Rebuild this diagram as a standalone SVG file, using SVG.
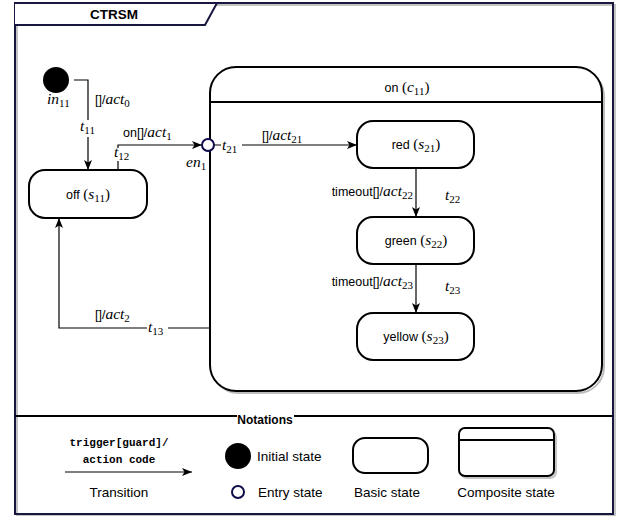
<svg xmlns="http://www.w3.org/2000/svg" width="621" height="519" viewBox="0 0 621 519">
<defs>
<marker id="arr" viewBox="0 0 10 8" markerWidth="10" markerHeight="8" refX="10" refY="4" orient="auto" markerUnits="userSpaceOnUse">
<path d="M0,0 L10,4 L0,8 L2.5,4 Z" fill="#000"/>
</marker>
</defs>
<style>
.lb{font-family:"Liberation Sans",Arial,sans-serif;font-size:12.5px;fill:#000}
.nt{font-family:"Liberation Sans",Arial,sans-serif;font-size:13.5px;fill:#000}
.bd{font-family:"Liberation Sans",Arial,sans-serif;font-weight:bold;fill:#000}
.mo{font-family:"Liberation Mono","Courier New",monospace;font-weight:bold;font-size:11px;fill:#000}
.mi{font-family:"Liberation Serif","Times New Roman",serif;font-style:italic;font-size:15.5px}
.mr{font-family:"Liberation Serif","Times New Roman",serif;font-size:15px}
.sb{font-family:"Liberation Serif","Times New Roman",serif;font-size:11px}
.st{fill:#fff;stroke:#000;stroke-width:2}
.edge{fill:none;stroke:#000;stroke-width:1.2}
.bg{fill:#fff}
</style>

<g id="frame">
<rect x="17" y="5" width="598" height="510" fill="none" stroke="#c4c4c4" stroke-width="2"/>
<rect x="15" y="3" width="598" height="511" fill="none" stroke="#17173f" stroke-width="2"/>
<path d="M15,3 L217,3 L205,25 L15,25" fill="#fff" stroke="#17173f" stroke-width="2"/>
<text class="bd" x="114" y="19" font-size="13.5" text-anchor="middle">CTRSM</text>
</g>

<g id="composite-on">
<rect x="212" y="70" width="392" height="323" rx="26" fill="none" stroke="#bdbdbd" stroke-width="2"/>
<rect x="210" y="67" width="392" height="324" rx="26" fill="#fff" stroke="#000" stroke-width="2"/>
<line x1="210" y1="102" x2="602" y2="102" stroke="#000" stroke-width="2"/>
<text class="lb" x="407" y="92" text-anchor="middle">on <tspan class="mr">(</tspan><tspan class="mi">c</tspan><tspan class="sb" dy="3">11</tspan><tspan class="mr" dy="-3">)</tspan></text>
</g>

<g id="initial">
<circle cx="56" cy="80" r="13" fill="#000"/>
<text x="47" y="104"><tspan class="mi">in</tspan><tspan class="sb" dy="3">11</tspan></text>
</g>

<g id="off">
<rect class="st" x="29" y="170" width="118" height="48" rx="16"/>
<text class="lb" x="88" y="199" text-anchor="middle">off <tspan class="mr">(</tspan><tspan class="mi">s</tspan><tspan class="sb" dy="3">11</tspan><tspan class="mr" dy="-3">)</tspan></text>
</g>

<g id="red">
<rect class="st" x="357" y="121" width="117" height="47" rx="16"/>
<text class="lb" x="416" y="149" text-anchor="middle">red <tspan class="mr">(</tspan><tspan class="mi">s</tspan><tspan class="sb" dy="3">21</tspan><tspan class="mr" dy="-3">)</tspan></text>
</g>

<g id="green">
<rect class="st" x="357" y="217" width="117" height="47" rx="16"/>
<text class="lb" x="416" y="245" text-anchor="middle">green <tspan class="mr">(</tspan><tspan class="mi">s</tspan><tspan class="sb" dy="3">22</tspan><tspan class="mr" dy="-3">)</tspan></text>
</g>

<g id="yellow">
<rect class="st" x="357" y="313" width="117" height="47" rx="16"/>
<text class="lb" x="416" y="341" text-anchor="middle">yellow <tspan class="mr">(</tspan><tspan class="mi">s</tspan><tspan class="sb" dy="3">23</tspan><tspan class="mr" dy="-3">)</tspan></text>
</g>

<g id="connectors">
<path class="edge" d="M74,80 H88 V170" marker-end="url(#arr)"/>
<path class="edge" d="M118,170 V145 H202" marker-end="url(#arr)"/>
<path class="edge" d="M214,145 H357" marker-end="url(#arr)"/>
<path class="edge" d="M416,168 V217" marker-end="url(#arr)"/>
<path class="edge" d="M416,264 V313" marker-end="url(#arr)"/>
<path class="edge" d="M210,328 H59 V218" marker-end="url(#arr)"/>

<rect class="bg" x="79" y="120" width="18" height="17"/>
<text x="80" y="131"><tspan class="mi">t</tspan><tspan class="sb" dy="3">11</tspan></text>
<text x="95" y="104"><tspan class="lb">[]/</tspan><tspan class="mi">act</tspan><tspan class="sb" dy="3">0</tspan></text>

<rect class="bg" x="113" y="148" width="19" height="13"/>
<text x="114" y="157"><tspan class="mi">t</tspan><tspan class="sb" dy="3">12</tspan></text>
<text x="123" y="137"><tspan class="lb">on[]/</tspan><tspan class="mi">act</tspan><tspan class="sb" dy="3">1</tspan></text>

<rect class="bg" x="221" y="139" width="21" height="13"/>
<text x="222" y="150"><tspan class="mi">t</tspan><tspan class="sb" dy="3">21</tspan></text>
<text x="262" y="140"><tspan class="lb">[]/</tspan><tspan class="mi">act</tspan><tspan class="sb" dy="3">21</tspan></text>

<text x="413" y="196" text-anchor="end"><tspan class="lb" font-size="13.5">timeout[]/</tspan><tspan class="mi">act</tspan><tspan class="sb" dy="3">22</tspan></text>
<text x="445" y="200"><tspan class="mi">t</tspan><tspan class="sb" dy="3">22</tspan></text>

<text x="413" y="286" text-anchor="end"><tspan class="lb" font-size="13.5">timeout[]/</tspan><tspan class="mi">act</tspan><tspan class="sb" dy="3">23</tspan></text>
<text x="445" y="291"><tspan class="mi">t</tspan><tspan class="sb" dy="3">23</tspan></text>

<rect class="bg" x="147" y="322" width="21" height="13"/>
<text x="148" y="332"><tspan class="mi">t</tspan><tspan class="sb" dy="3">13</tspan></text>
<text x="95" y="319"><tspan class="lb">[]/</tspan><tspan class="mi">act</tspan><tspan class="sb" dy="3">2</tspan></text>
</g>

<g id="entry-en1">
<circle cx="208" cy="145" r="6" fill="#fff" stroke="#0e0e4a" stroke-width="2"/>
<text x="186" y="167"><tspan class="mi">en</tspan><tspan class="sb" dy="3">1</tspan></text>
</g>

<g id="notations">
<line x1="15" y1="416" x2="613" y2="416" stroke="#000" stroke-width="2"/>
<rect class="bg" x="237" y="410" width="57" height="14"/>
<text class="bd" x="265" y="424" font-size="12" text-anchor="middle">Notations</text>

<text class="mo" x="119" y="446" text-anchor="middle">trigger[guard]/</text>
<text class="mo" x="119" y="463" text-anchor="middle">action code</text>
<path class="edge" d="M65,472 H192" marker-end="url(#arr)"/>
<text class="nt" x="119" y="497" text-anchor="middle">Transition</text>

<circle cx="238" cy="456" r="13" fill="#000"/>
<text class="nt" x="257" y="461">Initial state</text>
<circle cx="238" cy="492" r="6" fill="#fff" stroke="#0e0e4a" stroke-width="2"/>
<text class="nt" x="258" y="497">Entry state</text>

<rect class="st" x="353" y="438" width="75" height="35" rx="12"/>
<text class="nt" x="387" y="497" text-anchor="middle">Basic state</text>

<rect x="461" y="431" width="95" height="47" rx="6" fill="none" stroke="#c4c4c4" stroke-width="2"/>
<rect class="st" x="459" y="428" width="95" height="48" rx="6"/>
<line x1="459" y1="440" x2="554" y2="440" stroke="#000" stroke-width="2"/>
<text class="nt" x="506" y="497" text-anchor="middle">Composite state</text>
</g>
</svg>
